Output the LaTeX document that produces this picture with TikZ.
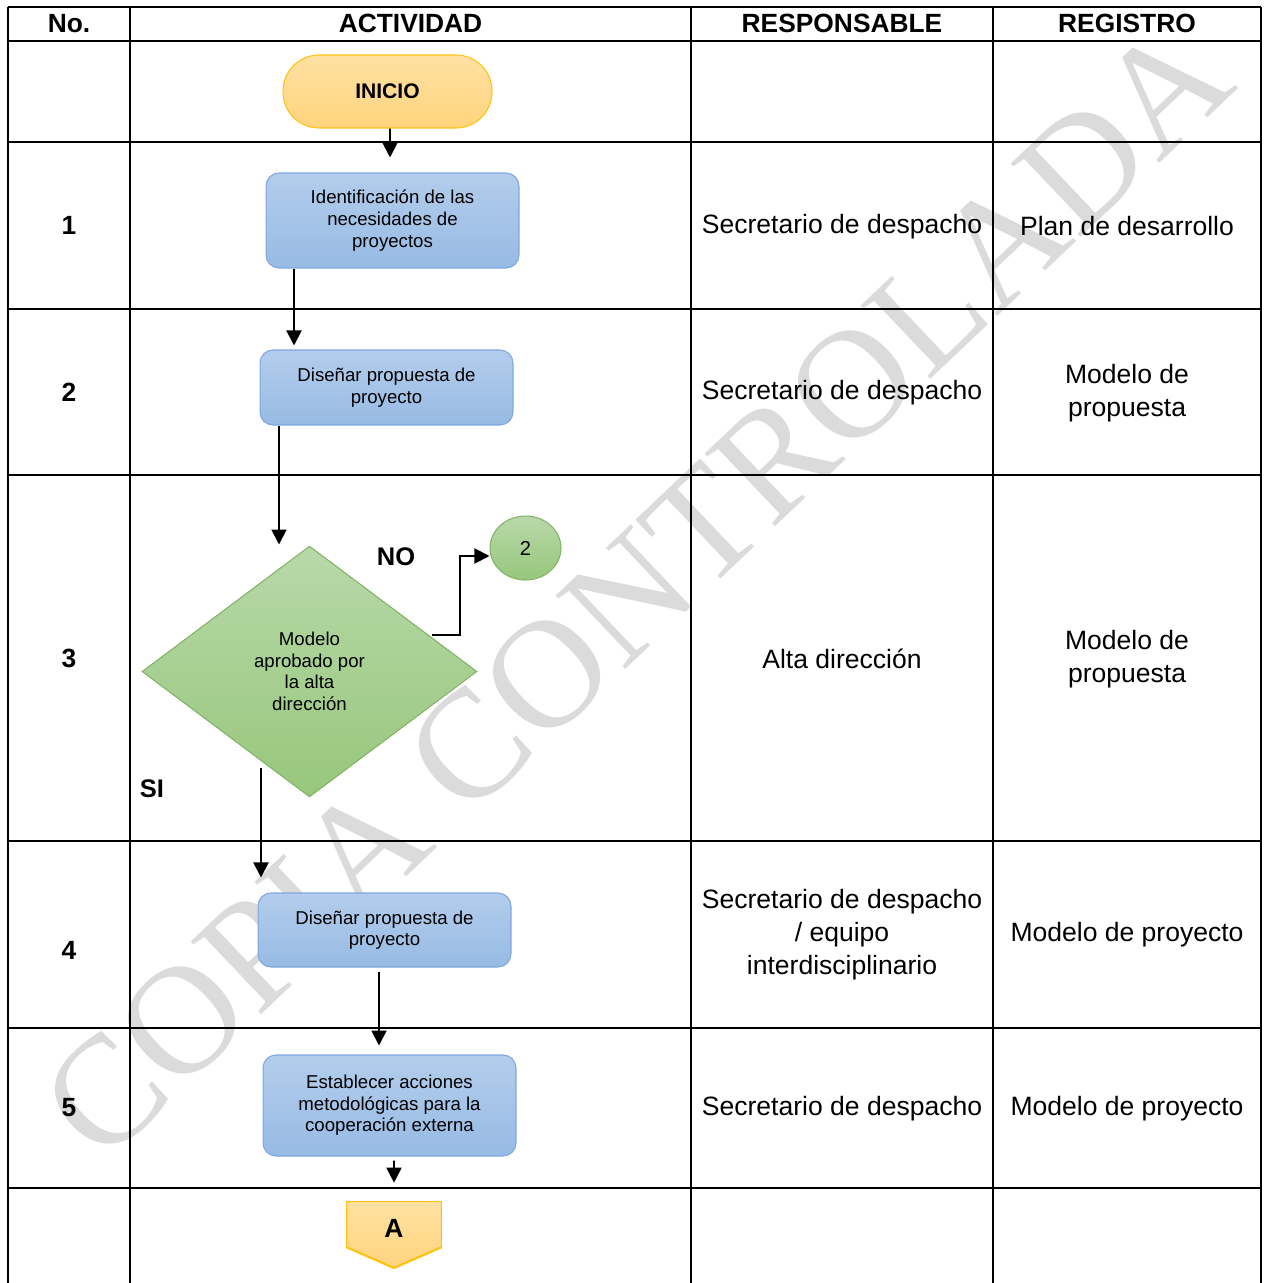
\documentclass[tikz,border=0pt]{standalone}
\usepackage{fontspec}
\setmainfont{Liberation Sans}
\newfontfamily\wmfont{Liberation Serif}
\usepackage{tikz}
\usetikzlibrary{arrows.meta, shapes.geometric}
\definecolor{boxtop}{HTML}{B3CDEC}
\definecolor{boxbot}{HTML}{97BBE4}
\definecolor{boxline}{HTML}{7EA6E0}
\definecolor{grntop}{HTML}{B8D8A9}
\definecolor{grnbot}{HTML}{97C77C}
\definecolor{grnline}{HTML}{82B366}
\definecolor{orgtop}{HTML}{FFE1A3}
\definecolor{orgbot}{HTML}{FFD47D}
\definecolor{orgline}{HTML}{FFC20E}
\tikzset{
    grid/.style={line width=1.2pt}, % lines of the table
    flow/.style={line width=1.1pt, -{Triangle[length=0.3cm, width=0.3cm]}}, % connectors
    head/.style={font=\bfseries\fontsize{15}{18}\selectfont}, % column titles and numbers
    cell/.style={align=center, font=\fontsize{15.1}{18.8}\selectfont}, % texts of the table
    small/.style={align=center, font=\fontsize{10.6}{12.3}\selectfont}, % texts inside the shapes
    activity/.style={small, rectangle, rounded corners=0.26cm, draw=boxline, line width=0.6pt,
        top color=boxtop, bottom color=boxbot, minimum width=5.06cm, inner sep=2pt},
    terminal/.style={rectangle, rounded corners=0.72cm, draw=orgline, line width=0.6pt,
        top color=orgtop, bottom color=orgbot, minimum width=4.18cm, minimum height=1.46cm,
        font=\bfseries\fontsize{12}{14}\selectfont},
    decision/.style={small, diamond, draw=grnline, line width=0.6pt, top color=grntop,
        bottom color=grnbot, minimum width=6.7cm, minimum height=5.02cm, inner sep=0pt},
    connector/.style={ellipse, draw=grnline, line width=0.6pt, top color=grntop, bottom color=grnbot,
        minimum width=1.42cm, minimum height=1.28cm, font=\fontsize{11.5}{13}\selectfont},
    offpage/.style={rectangle, minimum width=1.92cm, minimum height=1.34cm, inner sep=0pt,
        text depth=0.26cm, font=\bfseries\fontsize{15}{18}\selectfont,
        path picture={ % pentagon pointing down
            \path[draw=orgline, line width=1.2pt, top color=orgtop, bottom color=orgbot]
                (path picture bounding box.north west) -- (path picture bounding box.north east)
                -- ([yshift=0.42cm]path picture bounding box.south east) -- (path picture bounding box.south)
                -- ([yshift=0.42cm]path picture bounding box.south west) -- cycle;
        }},
    wmark/.style={text=black!14, rotate=43.5, font=\wmfont\fontsize{88}{88}\selectfont}, % watermark
}

\begin{document}
\begin{tikzpicture}[x=0.02cm, y=-0.02cm]
    \useasboundingbox (0,0) rectangle (1264,1283);
    % watermark behind everything
    \node[wmark] (marca) at (636,590) {COPIA CONTROLADA};
    % table
    \foreach \y in {7,41,142,309,475,841,1028,1188}
        \draw[grid] (8,\y) -- (1261,\y);
    \foreach \x in {8,130,691,993,1261}
        \draw[grid] (\x,7) -- (\x,1283);
    \node[head] (hNo) at (69,23.5) {No.};
    \node[head] (hAct) at (410.5,23.5) {ACTIVIDAD};
    \node[head] (hResp) at (842,23.5) {RESPONSABLE};
    \node[head] (hReg) at (1127,23.5) {REGISTRO};
    \node[head] (n1) at (69,225) {1};
    \node[head] (n2) at (69,392) {2};
    \node[head] (n3) at (69,658) {3};
    \node[head] (n4) at (69,950) {4};
    \node[head] (n5) at (69,1108) {5};
    \node[cell] (r1) at (842,226.5) {Secretario de despacho};
    \node[cell] (r2) at (842,393) {Secretario de despacho};
    \node[cell] (r3) at (842,658.5) {Alta dirección};
    \node[cell] (r4) at (842,935) {Secretario de despacho\\/ equipo\\interdisciplinario};
    \node[cell] (r5) at (842,1109) {Secretario de despacho};
    \node[cell] (g1) at (1127,226.5) {Plan de desarrollo};
    \node[cell] (g2) at (1127,393) {Modelo de\\propuesta};
    \node[cell] (g3) at (1127,659) {Modelo de\\propuesta};
    \node[cell] (g4) at (1127,935) {Modelo de proyecto};
    \node[cell] (g5) at (1127,1109) {Modelo de proyecto};
    % flow
    \node[terminal] (inicio) at (387.5,91.5) {INICIO};
    \node[activity, minimum height=1.9cm] (act1) at (392.5,220.5) {Identificación de las\\necesidades de\\proyectos};
    \node[activity, minimum height=1.5cm] (act2) at (386.5,387.5) {Diseñar propuesta de\\proyecto};
    \node[decision] (dec3) at (309.5,671.5) {Modelo\\aprobado por\\la alta\\dirección};
    \node[connector] (con2) at (525.5,548) {2};
    \node[activity, minimum height=1.48cm] (act4) at (384.5,930) {Diseñar propuesta de\\proyecto};
    \node[activity, minimum height=2.02cm] (act5) at (389.5,1105.5) {Establecer acciones\\metodológicas para la\\cooperación externa};
    \node[offpage] (conA) at (394,1234.5) {A};
    \node[head, font=\bfseries\fontsize{14.5}{17}\selectfont] (lNo) at (396,557) {NO};
    \node[head, font=\bfseries\fontsize{14.5}{17}\selectfont] (lSi) at (152,789) {SI};
    \draw[flow, shorten >=0.3cm] ([shift={(2.5,0)}]inicio.south) -- ([shift={(-2.5,0)}]act1.north);
    \draw[flow, shorten >=0.08cm] ([shift={(-98.5,0)}]act1.south) -- ([shift={(-92.5,0)}]act2.north);
    \draw[flow] ([shift={(-107.5,0)}]act2.south) -- ([shift={(-30.5,-1)}]dec3.north);
    \draw[flow] ([shift={(122.5,-36.5)}]dec3.center) -| ([shift={(-29.5,8)}]con2.west) -- ([shift={(0,8)}]con2.west);
    \draw[flow, shorten >=0.3cm] ([shift={(-48.5,96.5)}]dec3.center) -- ([shift={(-123.5,0)}]act4.north);
    \draw[flow, shorten <=0.08cm, shorten >=0.18cm] ([shift={(-5.5,0)}]act4.south) -- ([shift={(-10.5,0)}]act5.north);
    \draw[flow, shorten <=0.08cm, shorten >=0.36cm] ([shift={(4.5,0)}]act5.south) -- (conA.north);
\end{tikzpicture}
\end{document}
